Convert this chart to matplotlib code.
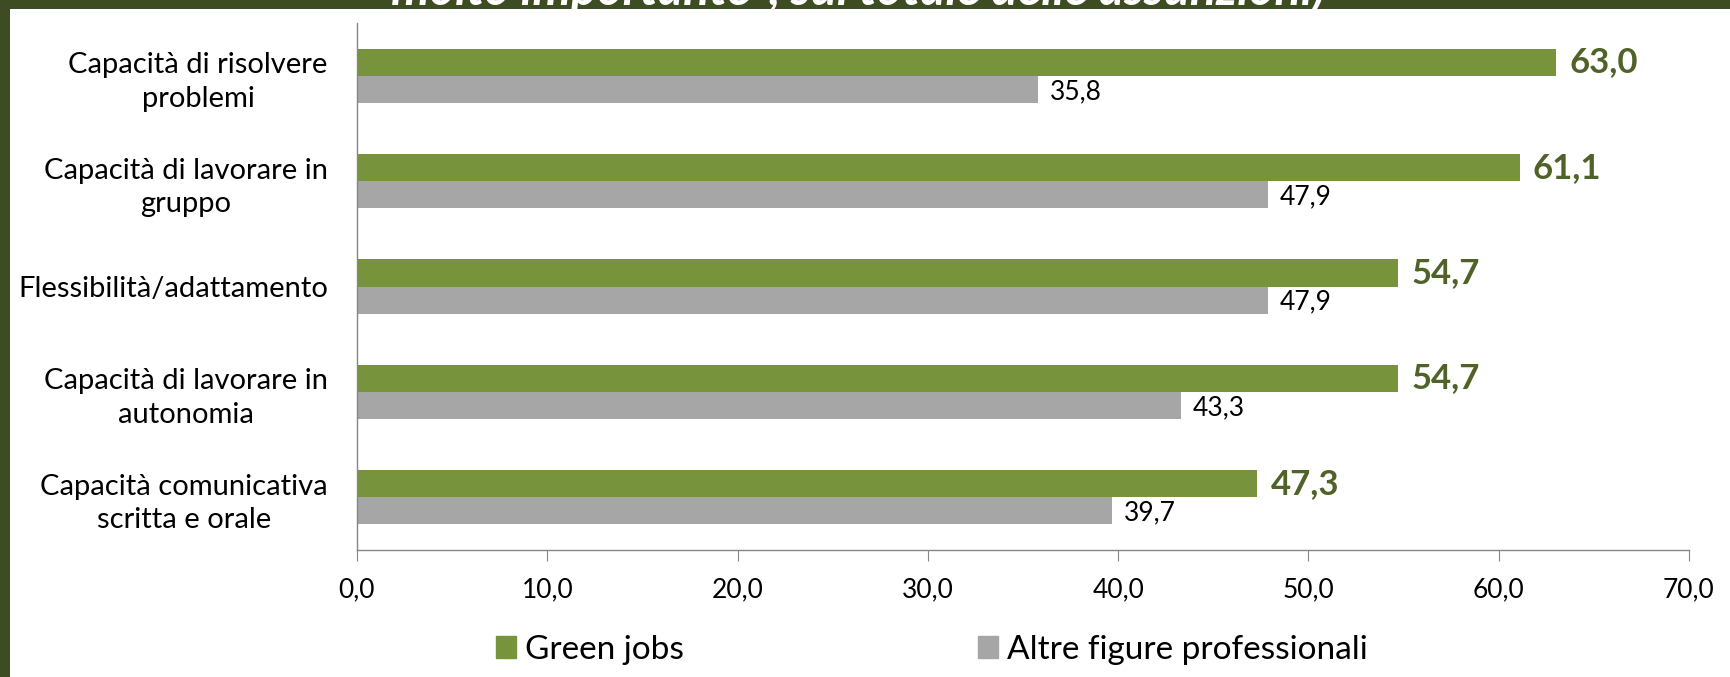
import matplotlib
matplotlib.use("Agg")
import matplotlib.pyplot as plt
import numpy as np
from matplotlib.patches import Rectangle, Patch

categories = ["Capacità di risolvere\nproblemi",
              "Capacità di lavorare in\ngruppo",
              "Flessibilità/adattamento",
              "Capacità di lavorare in\nautonomia",
              "Capacità comunicativa\nscritta e orale"]
green_jobs = [63.0, 61.1, 54.7, 54.7, 47.3]
altre = [35.8, 47.9, 47.9, 43.3, 39.7]
xticks = [0, 10, 20, 30, 40, 50, 60, 70]
series_names = ["Green jobs", "Altre figure professionali"]
title_text = '"molto importante", sul totale delle assunzioni)'

GREEN = "#77933C"
GREEN_DARK = "#4F6228"
GRAY = "#A6A6A6"
BORDER = "#3D4C22"
FONT = ["Lato", "DejaVu Sans"]
plt.rcParams['font.family'] = FONT

W, H = 1731, 677
fig = plt.figure(figsize=(W/100, H/100), dpi=100, facecolor=BORDER)
fig.patches.append(Rectangle((10/W, 0), 1, 1 - 9/H, transform=fig.transFigure,
                             facecolor="white", edgecolor="none", zorder=-5))
fig.text(849/W, 1 - 5/H, title_text, color="white", fontsize=35, fontweight="bold",
         fontstyle="italic", ha="center", va="baseline", zorder=-4)

ax = fig.add_axes([357/W, 127/H, (1689-357)/W, (550-23)/H])
ax.set_facecolor("none")
y = np.arange(len(categories))
h = 0.257
ax.barh(y - h/2, green_jobs, height=h, color=GREEN, label=series_names[0])
ax.barh(y + h/2, altre, height=h, color=GRAY, label=series_names[1])

for yi, v in zip(y, green_jobs):
    ax.text(v + 0.7, yi - h/2, f"{v:.1f}".replace(".", ","), color=GREEN_DARK,
            fontsize=25, fontweight="bold", va="center", ha="left")
for yi, v in zip(y, altre):
    ax.text(v + 0.6, yi + h/2 + 0.02, f"{v:.1f}".replace(".", ","), color="black",
            fontsize=19, va="center", ha="left")

ax.set_ylim(len(categories) - 0.5, -0.5)
ax.set_xlim(0, 70)
ax.set_xticks(xticks)
ax.set_xticklabels([f"{t:.1f}".replace(".", ",") for t in xticks], fontsize=19)
ax.set_yticks(y)
ax.set_yticklabels(categories, fontsize=21, ha="right", multialignment="center",
                   linespacing=1.35)
ax.tick_params(axis="y", length=0, pad=21)
ax.tick_params(axis="x", length=8, color="#868686", pad=12)
for s in ["top", "right"]:
    ax.spines[s].set_visible(False)
for s in ["left", "bottom"]:
    ax.spines[s].set_color("#868686")
    ax.spines[s].set_linewidth(1)

handles = [Patch(color=GREEN), Patch(color=GRAY)]
fig.legend(handles, series_names, loc="center", bbox_to_anchor=(931.5/W, 1 - 650/H),
           ncol=2, frameon=False, fontsize=24, handlelength=0.62, handleheight=0.62,
           handletextpad=0.25, columnspacing=8.83)

fig.savefig("out.png", dpi=100, facecolor=BORDER)
